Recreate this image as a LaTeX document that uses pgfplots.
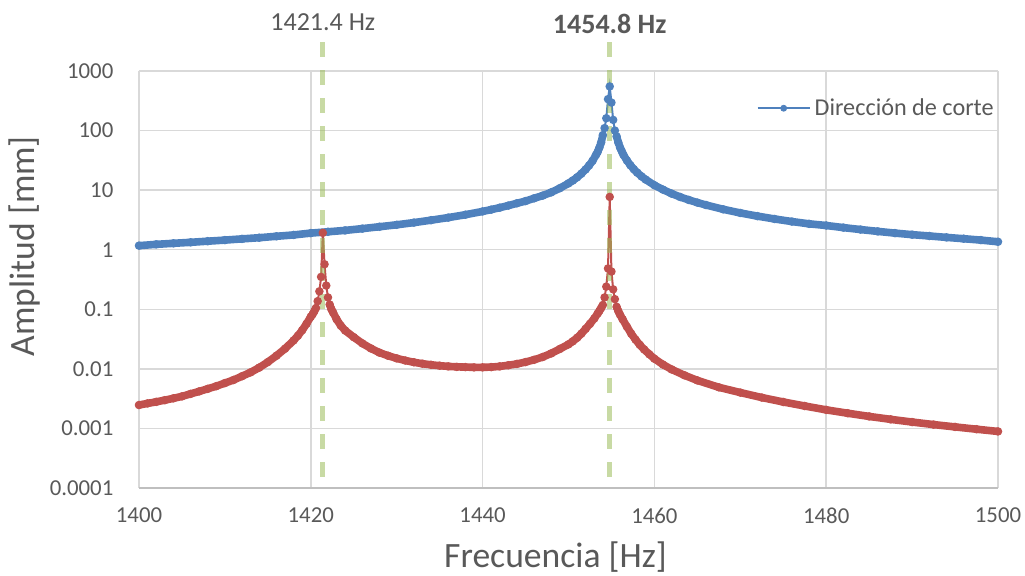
\documentclass[border=0pt]{standalone}
\usepackage{fontspec}
\setmainfont{Carlito}
\usepackage{pgfplots}
\usepackage{pgfplotstable}
\pgfplotsset{compat=1.18}

\definecolor{seriesblue}{HTML}{4F81BD}
\definecolor{seriesred}{HTML}{C0504D}
\definecolor{peakgreen}{HTML}{9BBB59}
\definecolor{gridgray}{HTML}{D9D9D9}
\definecolor{axisgray}{HTML}{BFBFBF}
\definecolor{textgray}{HTML}{595959}

% Amplitude in the cutting direction
\pgfplotstableread{
f       a
1400    1.17
1402    1.23
1404    1.28
1406    1.33
1408    1.39
1410    1.45
1412    1.52
1414    1.59
1416    1.68
1418    1.77
1420    1.90
1422    2.00
1424    2.11
1426    2.26
1428    2.43
1430    2.62
1432    2.85
1434    3.13
1436    3.46
1438    3.87
1440    4.39
1441    4.71
1442    5.08
1443    5.51
1444    6.02
1445    6.55
1446    7.30
1447    8.10
1448    9.20
1449    10.8
1450    13.0
1450.5  14.5
1451    16.4
1451.5  18.9
1452    22.3
1452.4  26.0
1452.8  31.0
1453.2  39.0
1453.4  44.0
1453.6  52.0
1453.8  63.0
1454.0  84.0
1454.2  110
1454.4  161
1454.6  337
1454.8  550
1455.0  295
1455.2  151
1455.4  100
1455.6  80.0
1455.8  63.0
1456.0  52.0
1456.2  45.0
1456.4  39.0
1456.8  31.5
1457.2  26.2
1457.6  22.5
1458    19.7
1458.5  17.0
1459    15.0
1460    12.1
1461    10.2
1462    8.75
1463    7.68
1464    6.85
1465    6.18
1466    5.63
1468    4.77
1470    4.14
1472    3.66
1474    3.28
1476    2.97
1478    2.72
1480    2.55
1482    2.35
1484    2.18
1486    2.03
1488    1.90
1490    1.79
1492    1.70
1494    1.61
1496    1.53
1498    1.45
1500    1.36
}\cutting

% Amplitude of the second response
\pgfplotstableread{
f       a
1400    0.00247
1401    0.00263
1402    0.00279
1403    0.00298
1404    0.00320
1405    0.00345
1406    0.00380
1407    0.00418
1408    0.00462
1409    0.00512
1410    0.00577
1411    0.00650
1412    0.00753
1413    0.00875
1414    0.0105
1415    0.0130
1416    0.0166
1417    0.0218
1418    0.0300
1418.5  0.0360
1419    0.0445
1419.5  0.0570
1420    0.0750
1420.2  0.0820
1420.4  0.0920
1420.6  0.105
1420.8  0.137
1421.0  0.200
1421.2  0.350
1421.4  1.92
1421.6  0.570
1421.8  0.250
1422.0  0.158
1422.2  0.120
1422.4  0.100
1422.6  0.088
1423    0.068
1423.5  0.053
1424    0.044
1425    0.034
1426    0.0268
1427    0.0220
1428    0.0187
1429    0.0166
1430    0.0150
1431    0.0138
1432    0.0129
1433    0.0122
1434    0.0117
1435    0.0113
1436    0.0110
1437    0.0108
1438    0.0107
1439    0.0106
1440    0.0106
1441    0.0107
1442    0.0110
1443    0.0115
1444    0.0121
1445    0.0130
1446    0.0142
1447    0.0158
1448    0.0182
1449    0.0216
1450    0.0258
1450.5  0.0290
1451    0.0332
1451.5  0.0390
1452    0.0470
1452.5  0.0570
1453    0.0700
1453.4  0.0850
1453.6  0.0940
1453.8  0.105
1454.0  0.118
1454.2  0.158
1454.4  0.240
1454.6  0.485
1454.8  7.70
1455.0  0.430
1455.2  0.216
1455.4  0.148
1455.6  0.110
1455.8  0.093
1456.0  0.081
1456.3  0.068
1456.8  0.051
1457.3  0.039
1457.8  0.031
1458.3  0.0253
1458.8  0.0212
1459.4  0.0176
1460    0.0148
1461    0.0118
1462    0.0098
1463.5  0.0078
1465    0.0064
1467.5  0.0049
1470    0.0040
1472.5  0.00330
1475    0.00278
1477.5  0.00238
1480    0.00205
1482.5  0.00180
1485    0.00159
1487.5  0.00142
1490    0.00128
1492.5  0.00116
1495    0.00106
1497.5  0.00097
1500    0.00089
}\second

\pgfplotsset{
  band/.style={forget plot, no marks, line width=3.8pt, line cap=round, line join=round},
  dots/.style={forget plot, line width=1pt, mark=*, mark size=1.6pt,
    mark options={solid, draw=#1, fill=#1}, color=#1},
}

\begin{document}
\begin{tikzpicture}
\useasboundingbox (-69.5pt,-44pt) rectangle (443pt,244pt);
\begin{axis}[
  scale only axis,
  width=429.5pt, height=208.5pt,
  xmin=1400, xmax=1500,
  ymode=log, ymin=1e-4, ymax=1000,
  xtick={1400,1420,1440,1460,1480,1500},
  xticklabels={1400,1420,1440,1460,1480,1500},
  ytick={1e-4,1e-3,1e-2,1e-1,1,10,100,1000},
  yticklabels={0.0001,0.001,0.01,0.1,1,10,100,1000},
  yminorticks=false,
  grid=major,
  major grid style={draw=gridgray, line width=0.75pt},
  tick style={draw=none},
  axis line style={draw=none},
  ticklabel style={font=\fontsize{11.4}{13}\selectfont, text=textgray},
  xticklabel style={anchor=north, yshift=-6.5pt},
  yticklabel style={anchor=east, xshift=-9.3pt},
  xlabel={Frecuencia [Hz]},
  ylabel={Amplitud [mm]},
  label style={font=\fontsize{17.8}{20}\selectfont, text=textgray},
  xlabel style={at={(rel axis cs:0.5,0)}, anchor=center, xshift=-6.5pt, yshift=-34.5pt},
  ylabel style={at={(rel axis cs:0,0.58)}, anchor=center, yshift=57pt},
  clip=false,
  legend style={draw=none, fill=none, anchor=north east, at={(rel axis cs:1.0,0.945)},
    font=\fontsize{12.1}{14}\selectfont, text=textgray, inner sep=0pt},
  legend cell align=left,
  legend image code/.code={
    \draw[line width=1pt] (0pt,0pt) -- (26pt,0pt);
    \fill (13pt,0pt) circle (1.5pt);
  },
]
% bottom axis line
\draw[axisgray, line width=0.9pt] (rel axis cs:0,0) -- (rel axis cs:1,0);

% cutting direction
\addplot[band, seriesblue, restrict x to domain=1400:1454.01] table[x=f, y=a] {\cutting};
\addplot[band, seriesblue, restrict x to domain=1455.59:1500] table[x=f, y=a] {\cutting};
\addplot[dots=seriesblue] table[x=f, y=a] {\cutting};

% second response
\addplot[band, seriesred, restrict x to domain=1400:1420.61] table[x=f, y=a] {\second};
\addplot[band, seriesred, restrict x to domain=1422.19:1454.01] table[x=f, y=a] {\second};
\addplot[band, seriesred, restrict x to domain=1455.59:1500] table[x=f, y=a] {\second};
\addplot[dots=seriesred] table[x=f, y=a] {\second};

% natural frequencies
\draw[peakgreen, opacity=0.55, line width=2.5pt, dash pattern=on 7.5pt off 6.5pt]
  (axis cs:1421.4,3040) -- (axis cs:1421.4,1e-4);
\draw[peakgreen, opacity=0.55, line width=2.5pt, dash pattern=on 7.5pt off 6.5pt]
  (axis cs:1454.8,3040) -- (axis cs:1454.8,1e-4);
\node[text=textgray, font=\fontsize{13}{15}\selectfont, anchor=center]
  at (axis cs:1421.4,6590) {1421.4 Hz};
\node[text=textgray, font=\fontsize{14}{16}\selectfont\bfseries, anchor=center]
  at (axis cs:1454.8,6100) {1454.8 Hz};

\addlegendimage{seriesblue}
\addlegendentry{Dirección de corte}
\end{axis}
\end{tikzpicture}
\end{document}
